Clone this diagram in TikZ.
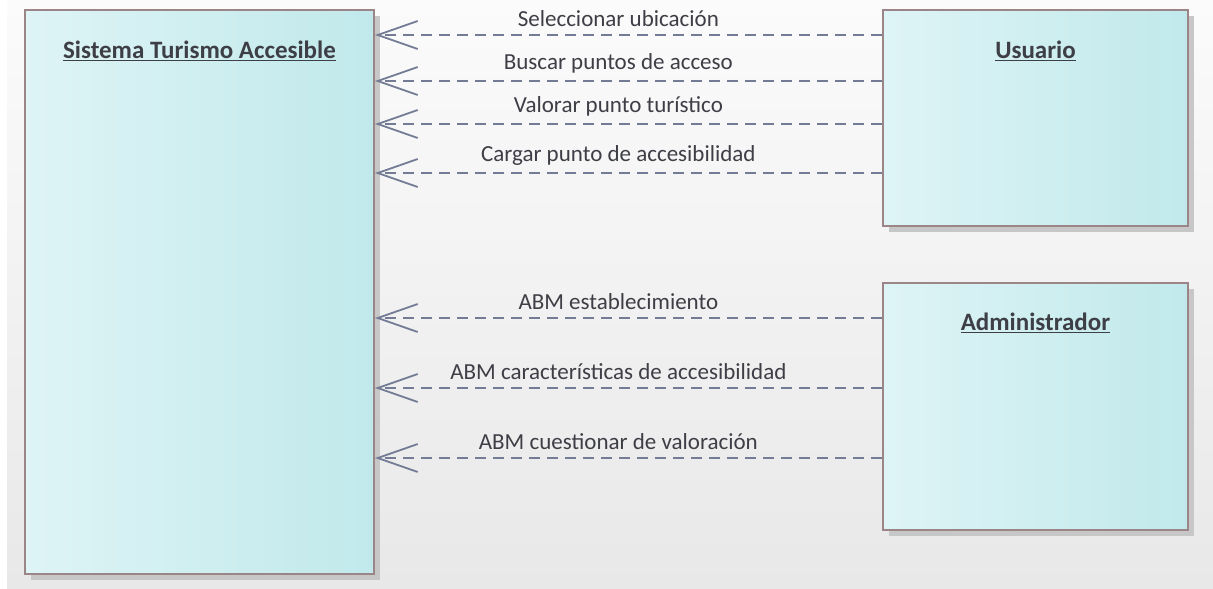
\documentclass[tikz,border=0pt]{standalone}
\usepackage{fontspec}
\setmainfont{Carlito}
\usetikzlibrary{arrows.meta,shadows}
\definecolor{bgtop}{HTML}{FBFBFB}
\definecolor{bgbot}{HTML}{E8E8E8}
\definecolor{boxleft}{HTML}{DEF4F6}
\definecolor{boxright}{HTML}{C1E9EB}
\definecolor{boxline}{HTML}{9C8587}
\definecolor{depline}{HTML}{737C94}
\definecolor{labeltext}{HTML}{3E3E46}
\tikzset{
    lifebox/.style={rectangle, draw=boxline, line width=2pt, left color=boxleft, right color=boxright,
        inner sep=0pt, drop shadow={shadow xshift=6pt, shadow yshift=-6pt, fill=black!22, opacity=1}},
    boxtitle/.style={font=\fontsize{25}{28}\selectfont\bfseries, text=labeltext, inner sep=0pt},
    dep/.style={draw=depline, line width=2pt, dash pattern=on 11pt off 7pt,
        -{Straight Barb[length=40pt,width=28pt,line width=1.8pt]}},
    deplabel/.style={font=\fontsize{23}{26}\selectfont, text=labeltext, inner sep=0pt, above=7pt}
}
\begin{document}
\begin{tikzpicture}[x=1pt,y=-1pt]
    \useasboundingbox (0,0) rectangle (1213,589);
    \fill[white] (0,0) rectangle (1213,589);
    \shade[top color=bgtop, bottom color=bgbot] (7,0) rectangle (1213,589);

    \node[lifebox, minimum width=349pt, minimum height=564pt] (sis) at (199.5,292) {};
    \node[lifebox, minimum width=305pt, minimum height=216pt] (usr) at (1035.5,118) {};
    \node[lifebox, minimum width=305pt, minimum height=247pt] (adm) at (1035.5,406.5) {};

    \node[boxtitle] (sistitle) at ([yshift=-42pt]sis.north) {\underline{Sistema Turismo Accesible}};
    \node[boxtitle] (usrtitle) at ([yshift=-42pt]usr.north) {\underline{Usuario}};
    \node[boxtitle] (admtitle) at ([yshift=-41pt]adm.north) {\underline{Administrador}};

    \draw[dep] (usr.west |- 0,35) -- (sis.east |- 0,35) node[deplabel, pos=0.52] {Seleccionar ubicación};
    \draw[dep] (usr.west |- 0,81) -- (sis.east |- 0,81) node[deplabel, pos=0.52] {Buscar puntos de acceso};
    \draw[dep] (usr.west |- 0,124) -- (sis.east |- 0,124) node[deplabel, pos=0.52] {Valorar punto turístico};
    \draw[dep] (usr.west |- 0,173) -- (sis.east |- 0,173) node[deplabel, pos=0.52] {Cargar punto de accesibilidad};

    \draw[dep] (adm.west |- 0,318) -- (sis.east |- 0,318) node[deplabel, pos=0.52] {ABM establecimiento};
    \draw[dep] (adm.west |- 0,388) -- (sis.east |- 0,388) node[deplabel, pos=0.52] {ABM características de accesibilidad};
    \draw[dep] (adm.west |- 0,458) -- (sis.east |- 0,458) node[deplabel, pos=0.52] {ABM cuestionar de valoración};
\end{tikzpicture}
\end{document}
